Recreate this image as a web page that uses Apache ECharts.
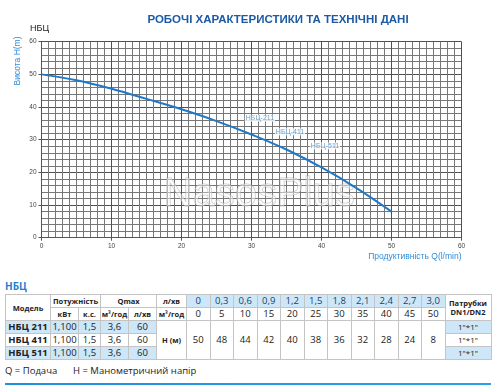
<!DOCTYPE html>
<html><head><meta charset="utf-8">
<script src="https://cdn.jsdelivr.net/npm/echarts@6/dist/echarts.min.js"></script>
<style>
html,body{margin:0;padding:0;background:#fff;width:501px;height:390px;overflow:hidden;font-family:"Open Sans","Liberation Sans",sans-serif;}
#chart{position:absolute;left:0;top:0;width:501px;height:270px;}
#sec{position:absolute;left:5px;top:279px;font:bold 10px "Open Sans",sans-serif;color:#1f7fd0;}
#tbl{position:absolute;left:5px;top:294px;width:486px;border-collapse:collapse;table-layout:fixed;}
#tbl td{border:1px solid #c4c4c4;text-align:center;padding:0;color:#222;font-size:9.5px;line-height:12px;white-space:nowrap;overflow:hidden;}
#tbl td.h{font-weight:bold;font-size:7.5px;}
#tbl td.m{font-weight:bold;}
#tbl td.b{background:#cde7f8;}
#tbl td.q{background:#cde7f8;color:#1b3f70;}
#tbl tr{height:13px;}
#note{position:absolute;left:5px;top:364px;font-size:9.5px;color:#222;}
#note span{position:absolute;left:68px;top:0;white-space:nowrap;}
#line{position:absolute;left:5px;top:383px;width:486px;height:2px;background:linear-gradient(90deg,#1f8fe0,#2aa0ea);}
</style>
</head><body>
<div id="chart"></div>
<div id="sec">НБЦ</div>
<table id="tbl"></table>
<div id="note">Q = Подача<span>H = Манометричний напір</span></div>
<div id="line"></div>
<script>
// ---- chart data ----
const titleText = 'РОБОЧІ ХАРАКТЕРИСТИКИ ТА ТЕХНІЧНІ ДАНІ';
const curveQ = [0, 5, 10, 15, 20, 25, 30, 35, 40, 45, 50];
const curveH = [50, 48.2, 45.6, 42.5, 39.3, 35.7, 31.6, 27.0, 21.5, 15.2, 8];
const seriesLabels = ['НБЦ-211', 'НБЦ-411', 'НБЦ-511'];
const labelQ = [31.2, 35.5, 40.5];
const labelH = [36.6, 32.4, 28.1];

// ---- table data ----
const models = ['НБЦ 211', 'НБЦ 411', 'НБЦ 511'];
const powerKw = ['1,100', '1,100', '1,100'];
const powerHp = ['1,5', '1,5', '1,5'];
const qmaxM3 = ['3,6', '3,6', '3,6'];
const qmaxL = ['60', '60', '60'];
const tableQm3 = ['0', '0,3', '0,6', '0,9', '1,2', '1,5', '1,8', '2,1', '2,4', '2,7', '3,0'];
const tableQl = ['0', '5', '10', '15', '20', '25', '30', '35', '40', '45', '50'];
const tableH = ['50', '48', '44', '42', '40', '38', '36', '32', '28', '24', '8'];
const flanges = ['1"*1"', '1"*1"', '1"*1"'];

const chart = echarts.init(document.getElementById('chart'), null, {renderer: 'canvas'});
const blue = '#1f78c8';
const lightBlue = '#2f8ddb';
chart.setOption({
  animation: false,
  title: {text: titleText, left: 273, top: 9, textAlign: 'center',
    textStyle: {fontFamily: 'Liberation Sans Narrow, Liberation Sans, sans-serif', fontWeight: 'bold', fontSize: 11.5, color: '#1c5aa6'}},
  graphic: [
    {type: 'text', left: 30, top: 24, style: {text: 'НБЦ', font: '9px "Liberation Sans", sans-serif', fill: '#222'}},
    {type: 'text', x: 18, y: 61, rotation: Math.PI / 2,
      style: {text: 'Висота H(m)', font: '8.5px "Liberation Sans", sans-serif', fill: lightBlue, align: 'center', verticalAlign: 'middle', textAlign: 'center', textVerticalAlign: 'middle'}},
    {type: 'text', left: 163, top: 174, z: 1, silent: true,
      style: {text: 'NasosPlus', font: '40px "Liberation Sans", sans-serif', fill: 'rgba(255,255,255,0.45)', stroke: 'rgba(150,150,150,0.5)', lineWidth: 1}}
  ],
  grid: {left: 41.5, top: 41.7, width: 420, height: 196, containLabel: false, outerBoundsMode: 'none'},
  xAxis: {
    type: 'value', min: 0, max: 60, interval: 10,
    name: 'Продуктивність Q(l/min)', nameLocation: 'end', nameGap: 0,
    nameTextStyle: {color: lightBlue, fontSize: 8.5, align: 'right', verticalAlign: 'top', padding: [14, 0, 0, 0], fontFamily: 'Liberation Sans'},
    axisLine: {show: true, lineStyle: {color: '#555', width: 1}},
    axisTick: {show: true, length: 3, lineStyle: {color: '#555'}},
    axisLabel: {color: '#444', fontSize: 6.5, margin: 5, fontFamily: 'Liberation Sans'},
    splitLine: {show: true, lineStyle: {color: '#505050', width: 1}},
    minorTick: {show: false, splitNumber: 10},
    minorSplitLine: {show: true, lineStyle: {color: '#777', width: 1}}
  },
  yAxis: {
    type: 'value', min: 0, max: 60, interval: 10,
    axisLine: {show: true, lineStyle: {color: '#555', width: 1}},
    axisTick: {show: true, length: 3, lineStyle: {color: '#555'}},
    axisLabel: {color: '#444', fontSize: 6.5, margin: 5, fontFamily: 'Liberation Sans'},
    splitLine: {show: true, lineStyle: {color: '#505050', width: 1}},
    minorTick: {show: false, splitNumber: 5},
    minorSplitLine: {show: true, lineStyle: {color: '#777', width: 1}}
  },
  series: [
    {type: 'line', smooth: 0.4, symbol: 'none', z: 5,
      lineStyle: {color: blue, width: 2},
      data: curveQ.map((q, i) => [q, curveH[i]])},
    {type: 'scatter', symbolSize: 0, z: 6,
      label: {show: true, position: 'inside', formatter: p => p.data[2], color: lightBlue, fontSize: 7,
        fontFamily: 'Liberation Sans', backgroundColor: '#fff', padding: [0, 1]},
      data: labelQ.map((q, i) => [q, labelH[i], seriesLabels[i]])}
  ]
});

// ---- build table ----
const tbl = document.getElementById('tbl');
let html = '<colgroup><col style="width:45px"><col style="width:28px"><col style="width:22px"><col style="width:28px"><col style="width:28px"><col style="width:30px">';
tableQm3.forEach(() => html += '<col style="width:23.5px">');
html += '<col style="width:46px"></colgroup>';
html += '<tr><td class="h" rowspan="2">Модель</td><td class="h" colspan="2">Потужність</td><td class="h" colspan="2">Qmax</td><td class="h">л/хв</td>';
tableQm3.forEach(v => html += '<td class="q">' + v + '</td>');
html += '<td class="h" rowspan="2" style="line-height:9px">Патрубки<br>DN1/DN2</td></tr>';
html += '<tr><td class="h">кВт</td><td class="h">к.с.</td><td class="h">м³/год</td><td class="h">л/хв</td><td class="h">м³/год</td>';
tableQl.forEach(v => html += '<td>' + v + '</td>');
html += '</tr>';
models.forEach((m, i) => {
  const c = i % 2 === 0 ? ' b' : '';
  html += '<tr><td class="m' + c + '">' + m + '</td><td class="' + c + '">' + powerKw[i] + '</td><td class="' + c + '">' + powerHp[i] +
    '</td><td class="' + c + '">' + qmaxM3[i] + '</td><td class="' + c + '">' + qmaxL[i] + '</td>';
  if (i === 0) {
    html += '<td class="h" rowspan="3">H (м)</td>';
    tableH.forEach(v => html += '<td rowspan="3">' + v + '</td>');
  }
  html += '<td class="' + c + '" style="font-size:8px">' + flanges[i] + '</td></tr>';
});
tbl.innerHTML = html;
</script>
</body></html>
